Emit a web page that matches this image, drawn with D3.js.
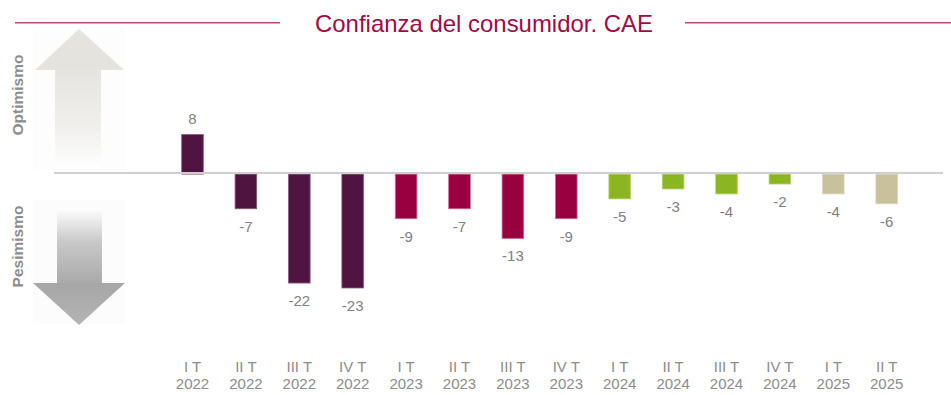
<!DOCTYPE html>
<html>
<head>
<meta charset="utf-8">
<script src="https://cdn.jsdelivr.net/npm/d3@7"></script>
<style>
  html, body { margin: 0; padding: 0; background: #fff; }
  svg { display: block; font-family: "Liberation Sans", Arial, sans-serif; }
</style>
</head>
<body>
<svg id="chart" width="951" height="395"></svg>
<script>
const quarters = ["I T", "II T", "III T", "IV T", "I T", "II T", "III T", "IV T", "I T", "II T", "III T", "IV T", "I T", "II T"];
const years = ["2022", "2022", "2022", "2022", "2023", "2023", "2023", "2023", "2024", "2024", "2024", "2024", "2025", "2025"];
const values = [8, -7, -22, -23, -9, -7, -13, -9, -5, -3, -4, -2, -4, -6];
const yearColors = { "2022": "#4f1440", "2023": "#99003f", "2024": "#8bb521", "2025": "#c9c09c" };
const yearStrokes = { "2022": "#8a5c80", "2023": "#d06a90", "2024": "#b3d36a", "2025": "#ddd6bd" };
const title = "Confianza del consumidor. CAE";

const svg = d3.select("#chart");
const defs = svg.append("defs");

const keys = quarters.map((q, i) => i);
const x = d3.scaleBand().domain(keys).range([165.8, 913.4]).paddingInner(0.595).paddingOuter(0.2975);
const y = d3.scaleLinear().domain([-23, 8]).range([288, 134.5]);

// Title and rules
svg.append("line").attr("x1", 15).attr("x2", 280).attr("y1", 22.7).attr("y2", 22.7)
  .attr("stroke", "#c4457c").attr("stroke-width", 1.5);
svg.append("line").attr("x1", 685).attr("x2", 951).attr("y1", 22.7).attr("y2", 22.7)
  .attr("stroke", "#c4457c").attr("stroke-width", 1.5);
svg.append("text").attr("x", 315).attr("y", 31.5).attr("fill", "#9e0a45")
  .attr("font-size", 24).attr("textLength", 338).attr("lengthAdjust", "spacingAndGlyphs")
  .text(title);

// Arrows
const gUp = defs.append("linearGradient").attr("id", "gUp").attr("x1", 0).attr("x2", 0).attr("y1", 0).attr("y2", 1);
gUp.append("stop").attr("offset", "0%").attr("stop-color", "#e6e4df");
gUp.append("stop").attr("offset", "55%").attr("stop-color", "#efeeeb");
gUp.append("stop").attr("offset", "100%").attr("stop-color", "#ffffff");
const gDown = defs.append("linearGradient").attr("id", "gDown").attr("x1", 0).attr("x2", 0).attr("y1", 0).attr("y2", 1);
gDown.append("stop").attr("offset", "0%").attr("stop-color", "#ffffff");
gDown.append("stop").attr("offset", "45%").attr("stop-color", "#c8c8c8");
gDown.append("stop").attr("offset", "100%").attr("stop-color", "#a9a9a9");
const gHead = defs.append("linearGradient").attr("id", "gHead").attr("x1", 0).attr("x2", 0).attr("y1", 0).attr("y2", 1);
gHead.append("stop").attr("offset", "0%").attr("stop-color", "#a6a6a6");
gHead.append("stop").attr("offset", "100%").attr("stop-color", "#b4b4b4");

svg.append("rect").attr("x", 33).attr("y", 28).attr("width", 92).attr("height", 142).attr("fill", "#fdfdfd");
svg.append("rect").attr("x", 33).attr("y", 200).attr("width", 92).attr("height", 124).attr("fill", "#fcfcfc");

svg.append("rect").attr("x", 55).attr("y", 69).attr("width", 46).attr("height", 100).attr("fill", "url(#gUp)");
svg.append("path").attr("d", "M79,29 L124,70 L35,70 Z").attr("fill", "#e5e3de");

svg.append("rect").attr("x", 57).attr("y", 208).attr("width", 45).attr("height", 76).attr("fill", "url(#gDown)");
svg.append("path").attr("d", "M33,283 L125,283 L79,325 Z").attr("fill", "url(#gHead)");

svg.append("text").attr("transform", "translate(23,95) rotate(-90)").attr("text-anchor", "middle")
  .attr("font-size", 15.5).attr("font-weight", "bold").attr("fill", "#8c8c8c").text("Optimismo");
svg.append("text").attr("transform", "translate(23,246.5) rotate(-90)").attr("text-anchor", "middle")
  .attr("font-size", 15.5).attr("font-weight", "bold").attr("fill", "#8c8c8c").text("Pesimismo");

// Bars
svg.append("g").selectAll("rect").data(values).join("rect")
  .attr("x", (d, i) => x(i))
  .attr("width", x.bandwidth())
  .attr("y", d => Math.min(y(d), y(0)))
  .attr("height", d => Math.abs(y(d) - y(0)))
  .attr("fill", (d, i) => yearColors[years[i]])
  .attr("stroke", (d, i) => yearStrokes[years[i]])
  .attr("stroke-width", 0.8);

// Zero line
svg.append("line").attr("x1", 54).attr("x2", 943).attr("y1", y(0) - 1).attr("y2", y(0) - 1)
  .attr("stroke", "#cfcfcf").attr("stroke-width", 2);

// Value labels
svg.append("g").selectAll("text").data(values).join("text")
  .attr("x", (d, i) => x(i) + x.bandwidth() / 2)
  .attr("y", d => d >= 0 ? y(d) - 10.5 : y(d) + 23)
  .attr("text-anchor", "middle")
  .attr("font-size", 15)
  .attr("fill", "#808080")
  .text(d => d);

// Category labels
const cat = svg.append("g").selectAll("text").data(keys).join("text")
  .attr("text-anchor", "middle")
  .attr("font-size", 15)
  .attr("fill", "#8c8c8c");
cat.append("tspan").attr("x", i => x(i) + x.bandwidth() / 2).attr("y", 372).text(i => quarters[i]);
cat.append("tspan").attr("x", i => x(i) + x.bandwidth() / 2).attr("y", 388.5).text(i => years[i]);
</script>
</body>
</html>
